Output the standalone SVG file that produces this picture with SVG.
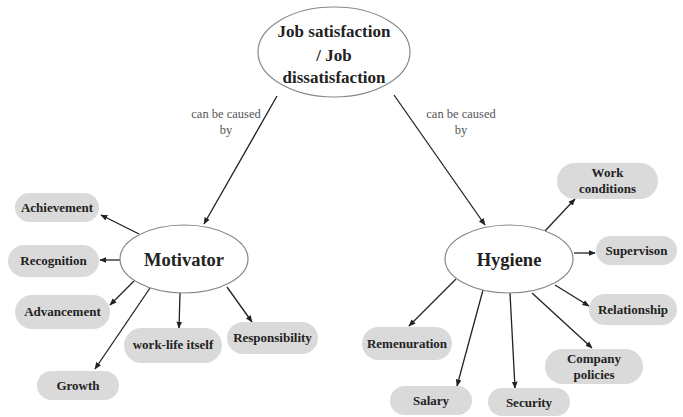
<svg xmlns="http://www.w3.org/2000/svg" width="683" height="417" viewBox="0 0 683 417">
<defs>
<marker id="ah" viewBox="0 0 10 10" refX="9" refY="5" markerWidth="5.5" markerHeight="5.5" orient="auto">
<path d="M0,1 L10,5 L0,9 z" fill="#222"/>
</marker>
<style>
.ell{fill:#fff;stroke:#888;stroke-width:1.2}
.pill{fill:#dadada;stroke:none}
.t{font-family:"Liberation Serif",serif;font-weight:bold;fill:#222;text-anchor:middle}
.c{font-size:13px}
.lbl{font-family:"Liberation Serif",serif;font-size:12.5px;fill:#555;text-anchor:middle}
.e{stroke:#222;stroke-width:1.3;fill:none;marker-end:url(#ah)}
</style>
</defs>
<rect width="683" height="417" fill="#fff"/>
<g id="connectors">
<line class="e" x1="277" y1="96" x2="204" y2="224"/>
<line class="e" x1="394" y1="95" x2="485" y2="225"/>
<line class="e" x1="139" y1="234" x2="101" y2="215"/>
<line class="e" x1="120" y1="260" x2="100" y2="260"/>
<line class="e" x1="134" y1="281" x2="110" y2="305"/>
<line class="e" x1="150" y1="288" x2="95" y2="369"/>
<line class="e" x1="180" y1="293" x2="179" y2="328"/>
<line class="e" x1="227" y1="287" x2="252" y2="322"/>
<line class="e" x1="545" y1="231" x2="575" y2="199"/>
<line class="e" x1="574" y1="253" x2="595" y2="253"/>
<line class="e" x1="555" y1="285" x2="589" y2="306"/>
<line class="e" x1="532" y1="293" x2="592" y2="348"/>
<line class="e" x1="510" y1="293" x2="515" y2="388"/>
<line class="e" x1="483" y1="290" x2="457" y2="386"/>
<line class="e" x1="456" y1="279" x2="409" y2="326"/>
<text class="lbl" x="226" y="118">can be caused</text>
<text class="lbl" x="226" y="134">by</text>
<text class="lbl" x="461" y="118">can be caused</text>
<text class="lbl" x="461" y="134">by</text>
</g>
<g id="root">
<ellipse class="ell" cx="334" cy="52" rx="76" ry="45"/>
<text class="t" font-size="17" x="334" y="37">Job satisfaction</text>
<text class="t" font-size="17" x="334" y="61">/ Job</text>
<text class="t" font-size="17" x="334" y="83">dissatisfaction</text>
</g>
<g id="motivator">
<ellipse class="ell" cx="184" cy="259" rx="64" ry="34"/>
<text class="t" font-size="18.5" x="184" y="266">Motivator</text>
</g>
<g id="hygiene">
<ellipse class="ell" cx="509" cy="259" rx="64" ry="34"/>
<text class="t" font-size="18.5" x="509" y="266">Hygiene</text>
</g>
<g id="achievement"><rect class="pill" x="15" y="193" width="84" height="29" rx="14.5"/><text class="t c" x="57" y="212">Achievement</text></g>
<g id="recognition"><rect class="pill" x="8" y="245" width="91" height="32" rx="16"/><text class="t c" x="53.5" y="265">Recognition</text></g>
<g id="advancement"><rect class="pill" x="15" y="295" width="95" height="34" rx="17"/><text class="t c" x="62.5" y="316">Advancement</text></g>
<g id="growth"><rect class="pill" x="37" y="371" width="82" height="29" rx="14.5"/><text class="t c" x="78" y="390">Growth</text></g>
<g id="worklife"><rect class="pill" x="124" y="328" width="98" height="35" rx="17.5"/><text class="t c" x="173" y="349">work-life itself</text></g>
<g id="responsibility"><rect class="pill" x="227" y="322" width="91" height="32" rx="16"/><text class="t c" x="272.5" y="342">Responsibility</text></g>
<g id="workconditions"><rect class="pill" x="557" y="163" width="101" height="36" rx="18"/><text class="t c" x="607.5" y="177">Work</text><text class="t c" x="607.5" y="193">conditions</text></g>
<g id="supervison"><rect class="pill" x="596" y="236" width="81" height="29" rx="14.5"/><text class="t c" x="636.5" y="255">Supervison</text></g>
<g id="relationship"><rect class="pill" x="589" y="294" width="88" height="31" rx="15.5"/><text class="t c" x="633" y="314">Relationship</text></g>
<g id="companypolicies"><rect class="pill" x="545" y="349" width="98" height="35" rx="17.5"/><text class="t c" x="594" y="363">Company</text><text class="t c" x="594" y="379">policies</text></g>
<g id="security"><rect class="pill" x="488" y="388" width="82" height="28" rx="14"/><text class="t c" x="529" y="407">Security</text></g>
<g id="salary"><rect class="pill" x="390" y="386" width="82" height="29" rx="14.5"/><text class="t c" x="431" y="405">Salary</text></g>
<g id="remenuration"><rect class="pill" x="362" y="327" width="90" height="33" rx="16.5"/><text class="t c" x="407" y="348">Remenuration</text></g>
</svg>
